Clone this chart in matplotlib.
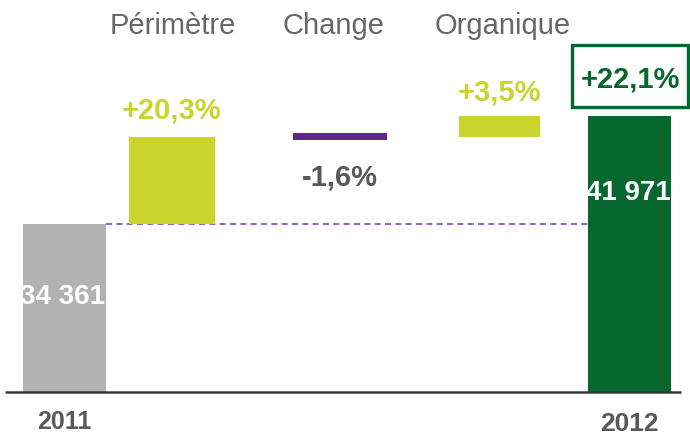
"""
Waterfall: chiffre d'affaires 2011 -> 2012.
"""

import matplotlib.pyplot as plt
from matplotlib.patches import Rectangle

plt.rcParams["font.family"] = ["Liberation Sans", "DejaVu Sans"]

# data
years = ["2011", "2012"]
totals = [34361, 41971]
total_labels = ["34 361", "41 971"]
steps = ["Périmètre", "Change", "Organique"]
step_bottoms = [34361, 40280, 40490]
step_tops = [40490, 40770, 41971]
step_labels = ["+20,3%", "-1,6%", "+3,5%"]
growth_label = "+22,1%"

# layout (x in pixels, axis base value for the bars)
x_total = [64.5, 629.5]
w_total = [83, 83]
x_step = [172, 340, 499.5]
w_step = [86, 94, 81]
title_shift = [0.5, -6, 3]
base = 22523
upp = (totals[1] - base) / 276.0  # value units per pixel

GREY = "#b2b2b2"
LIME = "#c9d42c"
PURPLE = "#5b2a86"
GREEN = "#07672f"
TEXT = "#666666"
DARK = "#595959"

fig = plt.figure(figsize=(6.9, 4.35), dpi=100)
ax = fig.add_axes([0, 0, 1, 1])
ax.set_xlim(0, 690)
ax.set_ylim(base - 42 * upp, base + 393 * upp)
ax.axis("off")

# totals
ax.bar(x_total, [t - base for t in totals], width=w_total, bottom=base,
       color=[GREY, GREEN], zorder=2)

# steps
step_colors = [LIME, PURPLE, LIME]
ax.bar(x_step, [t - b for b, t in zip(step_bottoms, step_tops)], width=w_step,
       bottom=step_bottoms, color=step_colors, zorder=2)

# baseline
ax.plot([5, 681], [base, base], color="#3a3a3a", lw=1.8, zorder=3,
        solid_capstyle="butt")

# dashed reference at 2011 level
ax.plot([x_total[0] + w_total[0] / 2, x_total[1] - w_total[1] / 2],
        [totals[0], totals[0]], color="#8444b4", lw=1.2, ls=(0, (3.6, 2.6)),
        zorder=1)

# total value labels (white, inside bars)
ax.text(x_total[0] - 2, base + 96 * upp, total_labels[0], color="white",
        fontsize=20, fontweight="bold", ha="center", va="center", zorder=4)
ax.text(x_total[1] - 1, base + 200 * upp, total_labels[1], color="white",
        fontsize=20, fontweight="bold", ha="center", va="center", zorder=4)

# year labels
ax.text(x_total[0], base - 36 * upp, years[0], color=DARK, fontsize=18,
        fontweight="bold", ha="center", va="baseline")
ax.text(x_total[1], base - 38 * upp, years[1], color=DARK, fontsize=19,
        fontweight="bold", ha="center", va="baseline")

# step titles
for x, dx, name in zip(x_step, title_shift, steps):
    ax.text(x + dx, 1 - 34 / 435, name,
            transform=ax.get_xaxis_transform(), color=TEXT, fontsize=21,
            ha="center", va="baseline")

# step percentage labels
ax.annotate(step_labels[0], (x_step[0], step_tops[0]), xytext=(0, 14),
            textcoords="offset points", color=LIME, fontsize=21,
            fontweight="bold", ha="center", va="baseline")
ax.annotate(step_labels[1], (x_step[1], step_bottoms[1]), xytext=(0, -32),
            textcoords="offset points", color=DARK, fontsize=21,
            fontweight="bold", ha="center", va="baseline")
ax.annotate(step_labels[2], (x_step[2], step_tops[2]), xytext=(0, 12),
            textcoords="offset points", color=LIME, fontsize=21,
            fontweight="bold", ha="center", va="baseline")

# growth box
ax.add_patch(Rectangle((572, base + (393 - 108) * upp), 116, 62 * upp,
                       fill=False, edgecolor=GREEN, lw=2.4, zorder=3))
ax.text(630.5, base + (393 - 88) * upp, growth_label, color=GREEN,
        fontsize=21, fontweight="bold", ha="center", va="baseline")

fig.savefig("out.png", dpi=100)
